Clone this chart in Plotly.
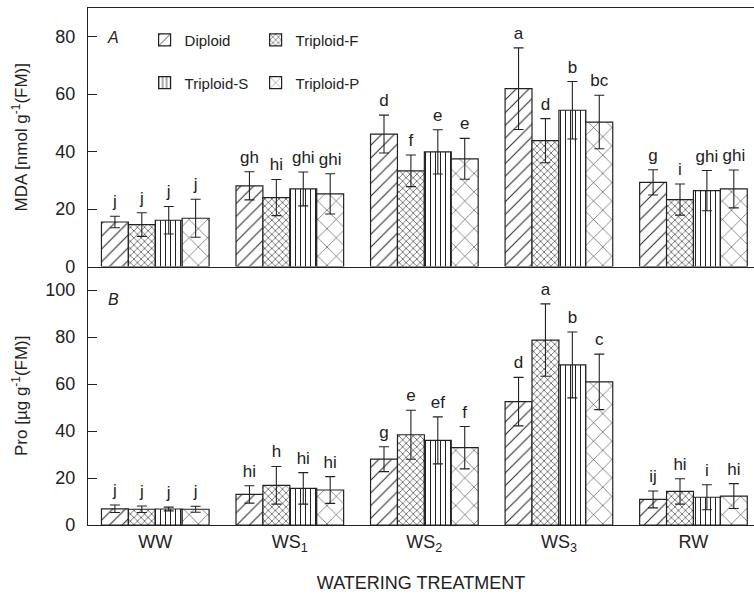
import plotly.graph_objects as go
from plotly.subplots import make_subplots

categories = ["WW", "WS<sub>1</sub>", "WS<sub>2</sub>", "WS<sub>3</sub>", "RW"]
series = ["Diploid", "Triploid-F", "Triploid-S", "Triploid-P"]

mda_diploid = [15.5, 28.1, 46.1, 61.9, 29.3]
mda_trip_f = [14.6, 24.0, 33.3, 43.8, 23.3]
mda_trip_s = [16.1, 27.0, 39.9, 54.4, 26.4]
mda_trip_p = [16.8, 25.3, 37.5, 50.3, 27.0]
mda_err_diploid = [2.0, 4.9, 6.6, 14.2, 4.4]
mda_err_trip_f = [4.1, 6.3, 5.5, 7.7, 5.4]
mda_err_trip_s = [4.8, 5.9, 7.7, 10.0, 7.0]
mda_err_trip_p = [6.6, 7.0, 7.1, 9.3, 6.6]
mda_letters_diploid = ["j", "gh", "d", "a", "g"]
mda_letters_trip_f = ["j", "hi", "f", "d", "i"]
mda_letters_trip_s = ["j", "ghi", "e", "b", "ghi"]
mda_letters_trip_p = ["j", "ghi", "e", "bc", "ghi"]

pro_diploid = [6.9, 13.0, 28.0, 52.5, 10.9]
pro_trip_f = [6.7, 16.9, 38.4, 78.7, 14.3]
pro_trip_s = [6.8, 15.6, 36.0, 68.1, 11.8]
pro_trip_p = [6.7, 14.9, 32.9, 60.9, 12.3]
pro_err_diploid = [1.6, 3.7, 5.3, 10.3, 3.6]
pro_err_trip_f = [1.4, 8.0, 10.4, 15.4, 5.4]
pro_err_trip_s = [0.8, 6.7, 10.0, 14.0, 5.3]
pro_err_trip_p = [1.3, 5.7, 9.0, 11.8, 5.3]
pro_letters_diploid = ["j", "hi", "g", "d", "ij"]
pro_letters_trip_f = ["j", "h", "e", "a", "hi"]
pro_letters_trip_s = ["j", "hi", "ef", "b", "i"]
pro_letters_trip_p = ["j", "hi", "f", "c", "hi"]

mda_vals = [mda_diploid, mda_trip_f, mda_trip_s, mda_trip_p]
mda_errs = [mda_err_diploid, mda_err_trip_f, mda_err_trip_s, mda_err_trip_p]
mda_lets = [mda_letters_diploid, mda_letters_trip_f, mda_letters_trip_s, mda_letters_trip_p]
pro_vals = [pro_diploid, pro_trip_f, pro_trip_s, pro_trip_p]
pro_errs = [pro_err_diploid, pro_err_trip_f, pro_err_trip_s, pro_err_trip_p]
pro_lets = [pro_letters_diploid, pro_letters_trip_f, pro_letters_trip_s, pro_letters_trip_p]

patterns = [
    dict(shape="/", size=9, solidity=0.11),
    dict(shape="x", size=5, solidity=0.22),
    dict(shape="|", size=5, solidity=0.2),
    dict(shape="x", size=13, solidity=0.08),
]

FONT = "Liberation Sans"
INK = "#222"
fig = make_subplots(rows=2, cols=1, shared_xaxes=True, vertical_spacing=0)

xs = list(range(len(categories)))
bw = 0.2
for row, vals, errs, lets in [(1, mda_vals, mda_errs, mda_lets), (2, pro_vals, pro_errs, pro_lets)]:
    for k, name in enumerate(series):
        pat = dict(patterns[k])
        pat.update(fgcolor=INK, bgcolor="white", fgopacity=1)
        legend = "legend" if k < 2 else "legend2"
        fig.add_trace(go.Bar(
            x=xs, y=vals[k], name=name, width=bw, offset=(k - 2) * bw,
            marker=dict(color="white", line=dict(color=INK, width=1.2), pattern=pat),
            error_y=dict(type="data", array=errs[k], color=INK, thickness=1.1, width=5),
            showlegend=(row == 1), legend=legend, legendgroup=name,
        ), row=row, col=1)
        fig.add_trace(go.Scatter(
            x=[i + (k - 1.5) * bw for i in xs],
            y=[v + e for v, e in zip(vals[k], errs[k])],
            text=lets[k], mode="markers+text", textposition="top center",
            marker=dict(size=6, opacity=0),
            textfont=dict(family=FONT, size=17, color=INK),
            showlegend=False, hoverinfo="skip",
        ), row=row, col=1)

axis_common = dict(showline=True, linecolor=INK, linewidth=1.3, showgrid=False, zeroline=False,
                   automargin=False, tickfont=dict(family=FONT, size=18, color=INK))
fig.update_xaxes(range=[-0.5, 4.45], tickvals=xs, ticktext=categories, ticks="", **axis_common)
fig.update_xaxes(mirror=True, showticklabels=False, row=1, col=1)
fig.update_xaxes(title=dict(text="WATERING TREATMENT", font=dict(family=FONT, size=18, color=INK), standoff=22),
                 row=2, col=1)
fig.update_yaxes(ticks="inside", ticklen=9, tickcolor=INK, tickwidth=1.3, ticklabelstandoff=8, **axis_common)
fig.update_yaxes(range=[0, 90], tickvals=[0, 20, 40, 60, 80],
                 title=dict(text="MDA [nmol g<sup>-1</sup>(FM)]", font=dict(family=FONT, size=17, color=INK), standoff=23),
                 row=1, col=1)
fig.update_yaxes(range=[0, 110], tickvals=[0, 20, 40, 60, 80, 100],
                 title=dict(text="Pro [µg g<sup>-1</sup>(FM)]", font=dict(family=FONT, size=17, color=INK), standoff=13),
                 row=2, col=1)

fig.add_annotation(text="<i>A</i>", xref="paper", yref="paper", x=0.038, y=0.942, showarrow=False,
                   xanchor="center", yanchor="middle", font=dict(family=FONT, size=16, color=INK))
fig.add_annotation(text="<i>B</i>", xref="paper", yref="paper", x=0.038, y=0.436, showarrow=False,
                   xanchor="center", yanchor="middle", font=dict(family=FONT, size=16, color=INK))

legend_common = dict(orientation="h", xanchor="left", yanchor="middle", bgcolor="rgba(0,0,0,0)",
                     font=dict(family=FONT, size=15, color=INK), entrywidth=66, entrywidthmode="pixels",
                     itemwidth=30, tracegroupgap=0)
fig.update_layout(
    width=754, height=595,
    margin=dict(l=88, r=0, t=8, b=70, autoexpand=False),
    plot_bgcolor="white", paper_bgcolor="white",
    barmode="overlay",
    legend=dict(x=0.085, y=0.938, **legend_common),
    legend2=dict(x=0.085, y=0.855, **legend_common),
    font=dict(family=FONT, color=INK),
)

fig.write_html("out.html", config={"displayModeBar": False},
               post_script="document.body.style.margin='0px';document.body.style.padding='0px';")
